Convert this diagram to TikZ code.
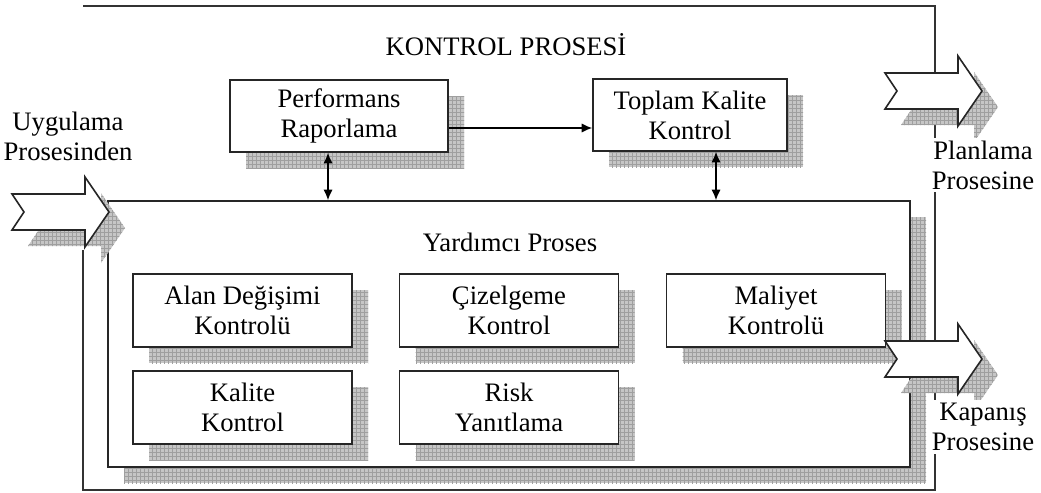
\documentclass[tikz,border=0pt]{standalone}
\usepackage{fontspec}
\setmainfont{Liberation Serif}
\usetikzlibrary{patterns,shadows,arrows.meta}

\tikzset{
  boxshadow/.style={general shadow={fill=gray!45, shadow xshift=12pt, shadow yshift=-12pt},
                    general shadow={pattern=grid, pattern color=gray!75, shadow xshift=12pt, shadow yshift=-12pt}},
  procbox/.style={draw=black!85, line width=1.2pt, fill=white, align=center, inner sep=0pt, boxshadow},
  subbox/.style={procbox, minimum width=164.25pt, minimum height=54.75pt},
  shadefill/.style={fill=gray!45, postaction={pattern=grid, pattern color=gray!75}},
  procarrow/.style={draw=black!85, line width=1.2pt, fill=white, line join=miter},
  frame/.style={draw=black!80, line width=1pt},
  link/.style={{Latex[length=8pt,width=7pt]}-{Latex[length=8pt,width=7pt]}, line width=1pt},
  flow/.style={-{Latex[length=8pt,width=7pt]}, line width=1pt},
  lbl/.style={align=center, inner sep=0pt},
  sidelbl/.style={lbl, fill=white, inner sep=2pt}
}

\begin{document}
\begin{tikzpicture}[x=0.75pt, y=-0.75pt, font=\fontsize{20}{22.5}\selectfont]
\useasboundingbox (0,0) rectangle (1041,492);

% kontrol prosesi cercevesi
\draw[frame] (83,250) -- (83,490) -- (935,490) -- (935,6) -- (83,6);
\node[lbl] (kontrol) at (506,45) {KONTROL PROSES\.I};

% ust kutular
\node[procbox, minimum width=163.5pt, minimum height=54pt] (perf) at (339,116) {Performans\\Raporlama};
\node[procbox, minimum width=145.5pt, minimum height=54pt] (toplam) at (690,115) {Toplam Kalite\\Kontrol};

% yardimci proses
\node[procbox, minimum width=601.5pt, minimum height=199.5pt] (yardimci) at (509,334) {};
\node[lbl] (yardimcititle) at (510,242) {Yard\i mc\i{} Proses};

\node[subbox] (alan) at (242.5,310.5) {Alan De\u{g}i\c{s}imi\\Kontrol\"u};
\node[subbox] (cizelge) at (509,310.5) {\c{C}izelgeme\\Kontrol};
\node[subbox] (maliyet) at (776,310.5) {Maliyet\\Kontrol\"u};
\node[subbox] (kalite) at (242.5,407.5) {Kalite\\Kontrol};
\node[subbox] (risk) at (509,407.5) {Risk\\Yan\i tlama};

% baglantilar
\draw[flow] ([shift={(0,12)}]perf.east) -- ([shift={(0,12)}]perf.east -| toplam.west);
\draw[link] ([shift={(-11,0)}]perf.south) -- ([shift={(-11,0)}]perf.south |- yardimci.north);
\draw[link] ([shift={(26,0)}]toplam.south) -- ([shift={(26,0)}]toplam.south |- yardimci.north);

% proses oklari
\foreach \ax/\ay in {12/212, 885/91, 885/359} {
  \fill[shadefill, shift={(\ax+16,\ay+16)}] (0,-18) -- (12,0) -- (0,18) -- (73,18) -- (73,35) -- (97,0) -- (73,-35) -- (73,-18) -- cycle;
  \draw[procarrow, shift={(\ax,\ay)}] (0,-18) -- (12,0) -- (0,18) -- (73,18) -- (73,35) -- (97,0) -- (73,-35) -- (73,-18) -- cycle;
}

\node[lbl] (uygulama) at (68,136) {Uygulama\\Prosesinden};
\node[sidelbl] (planlama) at (983,165) {Planlama\\Prosesine};
\node[sidelbl] (kapanis) at (983,427) {Kapan\i\c{s}\\Prosesine};
\end{tikzpicture}
\end{document}
